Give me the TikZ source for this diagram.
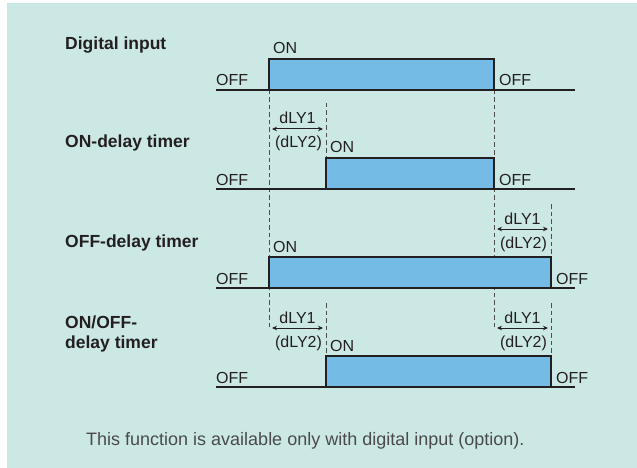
\documentclass[tikz,border=0pt]{standalone}
\usepackage{fontspec}
\setmainfont{Liberation Sans}
\usetikzlibrary{arrows.meta}
\definecolor{bg}{HTML}{CCE8E5}
\definecolor{pulsefill}{HTML}{74BCE6}
\definecolor{ink}{HTML}{231F20}
\definecolor{note}{HTML}{4A4A4A}
\begin{document}
\begin{tikzpicture}[x=1pt,y=-1pt,
  sig/.style={draw=ink,line width=1.2pt},
  pulse/.style={draw=ink,fill=pulsefill,line width=2pt},
  guide/.style={draw=ink!80,line width=0.8pt,dash pattern=on 4.5pt off 3pt},
  dly/.style={draw=ink,line width=1pt,{Stealth[length=5pt,width=4.5pt]}-{Stealth[length=5pt,width=4.5pt]}},
  lbl/.style={inner sep=0pt,anchor=base west,text=ink,font=\fontsize{16}{19}\selectfont},
  dlbl/.style={inner sep=0pt,anchor=base,text=ink,font=\fontsize{16}{19}\selectfont},
  ttl/.style={inner sep=0pt,anchor=base west,text=ink,align=left,font=\fontsize{17.5}{20}\selectfont\bfseries}]
\useasboundingbox (0,0) rectangle (637,468);
\fill[bg] (7,3) rectangle (637,468);

% guide lines
\coordinate (g1t) at (269,90);  \coordinate (g1b) at (269,328);
\coordinate (g2t) at (494,90);  \coordinate (g2b) at (494,328);
\coordinate (g3t) at (326,103); \coordinate (g3b) at (326,158);
\coordinate (g4t) at (551,204); \coordinate (g4b) at (551,257);
\coordinate (g5t) at (326,303); \coordinate (g5b) at (326,356);
\coordinate (g6t) at (551,303); \coordinate (g6b) at (551,356);
\draw[guide] (g1t) -- (g1b);
\draw[guide] (g2t) -- (g2b);
\draw[guide] (g3t) -- (g3b);
\draw[guide] (g4t) -- (g4b);
\draw[guide] (g5t) -- (g5b);
\draw[guide] (g6t) -- (g6b);

% baselines
\coordinate (l1a) at (216,90);  \coordinate (l1b) at (575,90);
\coordinate (l2a) at (216,189); \coordinate (l2b) at (575,189);
\coordinate (l3a) at (216,288); \coordinate (l3b) at (575,288);
\coordinate (l4a) at (216,387); \coordinate (l4b) at (575,387);
\draw[sig] (l1a) -- (l1b);
\draw[sig] (l2a) -- (l2b);
\draw[sig] (l3a) -- (l3b);
\draw[sig] (l4a) -- (l4b);

% pulses
\draw[pulse] (269,90) rectangle (494,59);
\draw[pulse] (326,189) rectangle (494,158);
\draw[pulse] (269,288) rectangle (551,257);
\draw[pulse] (326,387) rectangle (551,356);

% titles
\node[ttl] (t1) at (65,50) {Digital input};
\node[ttl] (t2) at (65,148) {ON-delay timer};
\node[ttl] (t3) at (65,247) {OFF-delay timer};
\node[ttl] (t4) at (65,348) {ON/OFF-\\delay timer};

% OFF / ON labels
\node[lbl] (off1a) at (216,86) {OFF};
\node[lbl] (off1b) at (499,86) {OFF};
\node[lbl] (on1) at (273,54) {ON};
\node[lbl] (off2a) at (216,185) {OFF};
\node[lbl] (off2b) at (499,185) {OFF};
\node[lbl] (on2) at (330,153) {ON};
\node[lbl] (off3a) at (216,284) {OFF};
\node[lbl] (off3b) at (556,284) {OFF};
\node[lbl] (on3) at (273,252) {ON};
\node[lbl] (off4a) at (216,383) {OFF};
\node[lbl] (off4b) at (556,383) {OFF};
\node[lbl] (on4) at (330,351) {ON};

% delay arrows
\coordinate (d1a) at (272,129); \coordinate (d1b) at (323,129);
\coordinate (d2a) at (497,229); \coordinate (d2b) at (548,229);
\coordinate (d3a) at (272,328); \coordinate (d3b) at (323,328);
\coordinate (d4a) at (497,328); \coordinate (d4b) at (548,328);
\draw[dly] (d1a) -- (d1b);
\draw[dly] (d2a) -- (d2b);
\draw[dly] (d3a) -- (d3b);
\draw[dly] (d4a) -- (d4b);
\node[dlbl] (k1) at (297.5,124) {dLY1};
\node[dlbl] (m1) at (298.5,148) {(dLY2)};
\node[dlbl] (k2) at (522.5,224) {dLY1};
\node[dlbl] (m2) at (523.5,248) {(dLY2)};
\node[dlbl] (k3) at (297.5,323) {dLY1};
\node[dlbl] (m3) at (298.5,347) {(dLY2)};
\node[dlbl] (k4) at (522.5,323) {dLY1};
\node[dlbl] (m4) at (523.5,347) {(dLY2)};

% note
\node[inner sep=0pt,anchor=base west,text=note,font=\fontsize{18}{21}\selectfont] (note) at (86,445)
  {This function is available only with digital input (option).};
\end{tikzpicture}
\end{document}
